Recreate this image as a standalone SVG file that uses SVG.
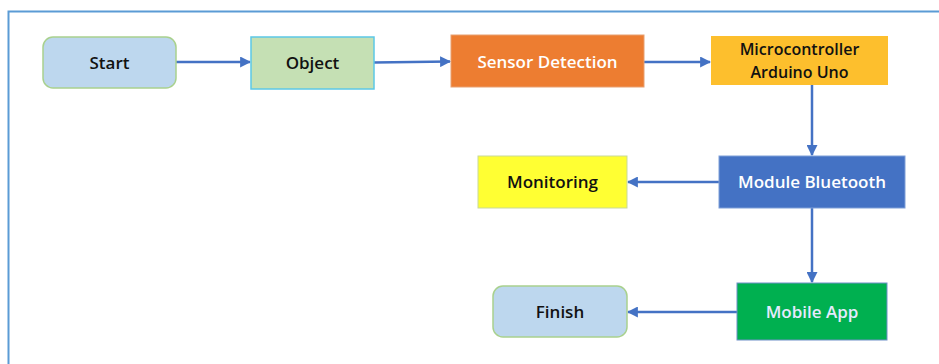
<svg xmlns="http://www.w3.org/2000/svg" width="939" height="364" viewBox="0 0 939 364">
<style>
text{font-family:"Open Sans","Liberation Sans",sans-serif;font-weight:600;font-size:17px;text-anchor:middle;dominant-baseline:central}
.dk{fill:#111}
.lt{fill:#fff}
.sm{font-size:16px}
.conn{stroke:#4472C4;stroke-width:2.5;fill:none}
</style>
<defs>
<marker id="ah" viewBox="0 0 10 10" refX="9" refY="5" markerWidth="4.4" markerHeight="4.4" orient="auto" markerUnits="strokeWidth">
<path d="M0,0 L10,5 L0,10 z" fill="#4472C4"/>
</marker>
</defs>
<rect x="0" y="0" width="939" height="364" fill="#fff"/>
<path d="M8.5,364 V11.5 H939" fill="none" stroke="#5B9BD5" stroke-width="2"/>
<g id="connectors">
<line class="conn" x1="176" y1="62" x2="250" y2="62" marker-end="url(#ah)"/>
<line class="conn" x1="374" y1="62.5" x2="450" y2="61.5" marker-end="url(#ah)"/>
<line class="conn" x1="644" y1="62" x2="710" y2="62" marker-end="url(#ah)"/>
<line class="conn" x1="812" y1="85" x2="812" y2="155" marker-end="url(#ah)"/>
<line class="conn" x1="719" y1="182" x2="628" y2="182" marker-end="url(#ah)"/>
<line class="conn" x1="812" y1="208" x2="812" y2="282" marker-end="url(#ah)"/>
<line class="conn" x1="737" y1="312" x2="628" y2="312" marker-end="url(#ah)"/>
</g>
<g id="start">
<rect x="43" y="37" width="133" height="51" rx="10" fill="#BDD7EE" stroke="#A9D18E" stroke-width="1.5"/>
<text class="dk" x="109.5" y="62">Start</text>
</g>
<g id="object">
<rect x="251" y="37" width="123" height="52" fill="#C5E0B4" stroke="#5CC8E6" stroke-width="1.5"/>
<text class="dk" x="312.5" y="62.5">Object</text>
</g>
<g id="sensor">
<rect x="451" y="35" width="193" height="52" fill="#ED7D31" stroke="#E8A070" stroke-width="1"/>
<text class="lt" x="547.5" y="61">Sensor Detection</text>
</g>
<g id="micro">
<rect x="711" y="36" width="177" height="49" fill="#FDBF2D"/>
<text class="dk sm" x="799.5" y="49">Microcontroller</text>
<text class="dk sm" x="799.5" y="71.5">Arduino Uno</text>
</g>
<g id="bluetooth">
<rect x="719" y="156" width="186" height="52" fill="#4472C4" stroke="#7F9FD8" stroke-width="1"/>
<text class="lt" x="812" y="181.5">Module Bluetooth</text>
</g>
<g id="monitoring">
<rect x="478" y="156" width="149" height="52" fill="#FFFF33" stroke="#C9D99A" stroke-width="1"/>
<text class="dk" x="552.5" y="181.5">Monitoring</text>
</g>
<g id="mobile">
<rect x="737" y="283" width="150" height="57" fill="#00B050" stroke="#6F8FC8" stroke-width="1"/>
<text x="812" y="311.5" fill="#E6EAFF">Mobile App</text>
</g>
<g id="finish">
<rect x="493" y="286" width="134" height="51" rx="10" fill="#BDD7EE" stroke="#A9D18E" stroke-width="1.5"/>
<text class="dk" x="560" y="311">Finish</text>
</g>
</svg>
